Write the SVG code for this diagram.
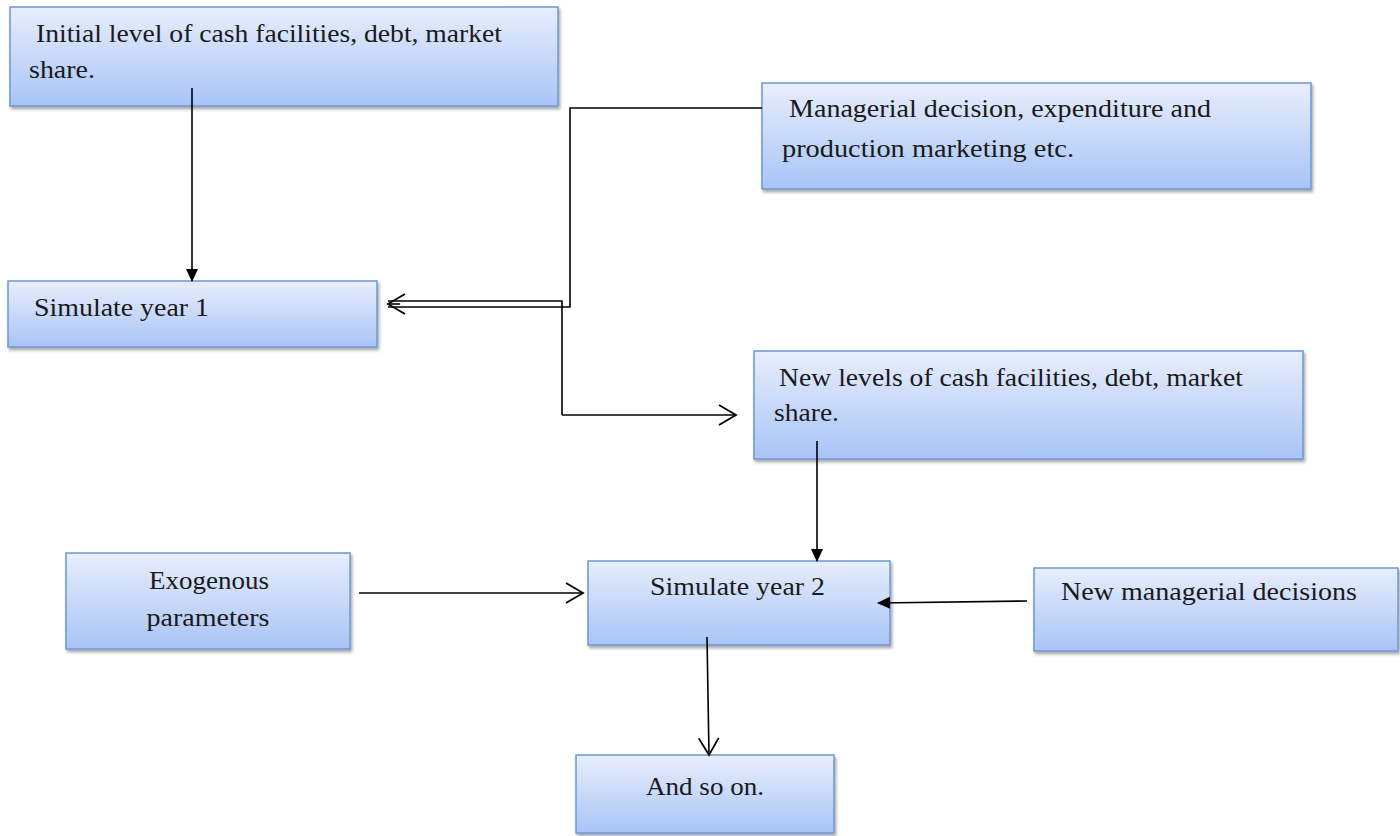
<svg xmlns="http://www.w3.org/2000/svg" width="1400" height="836" viewBox="0 0 1400 836">
<style>
.box{fill:url(#g);stroke:#6d97d4;stroke-width:1.5;filter:url(#sh)}
.t{font-family:"Liberation Serif","DejaVu Serif",serif;font-size:25px;fill:#1a1a1a}
.c{fill:none;stroke:#000;stroke-width:1.6}
</style>
<defs>
<linearGradient id="g" x1="0" y1="0" x2="0" y2="1">
<stop offset="0" stop-color="#e8eefc"/>
<stop offset="1" stop-color="#a8c4f6"/>
</linearGradient>
<filter id="sh" x="-5%" y="-10%" width="115%" height="130%">
<feDropShadow dx="1.5" dy="2.5" stdDeviation="1.5" flood-color="#000" flood-opacity="0.35"/>
</filter>
<marker id="fa" markerWidth="14" markerHeight="14" refX="12" refY="7" orient="auto" markerUnits="userSpaceOnUse">
<path d="M0,1 L13,7 L0,13 Z" fill="#000"/>
</marker>
<marker id="oa" markerWidth="22" markerHeight="24" refX="19" refY="12" orient="auto" markerUnits="userSpaceOnUse">
<path d="M2,2 L19,12 L2,22" fill="none" stroke="#000" stroke-width="1.8"/>
</marker>
</defs>

<g id="n1"><rect class="box" x="10" y="7" width="548" height="99"/>
<text class="t" x="36" y="42" textLength="466" lengthAdjust="spacingAndGlyphs">Initial level of cash facilities, debt, market</text>
<text class="t" x="29" y="78" textLength="66" lengthAdjust="spacingAndGlyphs">share.</text></g>

<g id="n2"><rect class="box" x="762" y="83" width="549" height="106"/>
<text class="t" x="789" y="117" textLength="422" lengthAdjust="spacingAndGlyphs">Managerial  decision, expenditure  and</text>
<text class="t" x="782" y="157" textLength="292" lengthAdjust="spacingAndGlyphs">production  marketing  etc.</text></g>

<g id="n3"><rect class="box" x="8" y="281" width="369" height="66"/>
<text class="t" x="34" y="316" textLength="175" lengthAdjust="spacingAndGlyphs">Simulate year 1</text></g>

<g id="n4"><rect class="box" x="754" y="351" width="549" height="108"/>
<text class="t" x="779" y="386" textLength="464" lengthAdjust="spacingAndGlyphs">New levels of cash facilities, debt, market</text>
<text class="t" x="774" y="421" textLength="65" lengthAdjust="spacingAndGlyphs">share.</text></g>

<g id="n5"><rect class="box" x="66" y="553" width="284" height="96"/>
<text class="t" x="209" y="589" text-anchor="middle" textLength="120" lengthAdjust="spacingAndGlyphs">Exogenous</text>
<text class="t" x="208" y="626" text-anchor="middle" textLength="123" lengthAdjust="spacingAndGlyphs">parameters</text></g>

<g id="n6"><rect class="box" x="588" y="561" width="302" height="84"/>
<text class="t" x="650" y="595" textLength="175" lengthAdjust="spacingAndGlyphs">Simulate year 2</text></g>

<g id="n7"><rect class="box" x="1034" y="568" width="364" height="83"/>
<text class="t" x="1061" y="600" textLength="296" lengthAdjust="spacingAndGlyphs">New managerial  decisions</text></g>

<g id="n8"><rect class="box" x="576" y="755" width="258" height="78"/>
<text class="t" x="646" y="795" textLength="118" lengthAdjust="spacingAndGlyphs">And so on.</text></g>

<g id="connectors">
<path class="c" d="M192,88 L192,281" marker-end="url(#fa)"/>
<path class="c" d="M762,108 L570,108 L570,307 L388,307"/>
<path class="c" d="M562,415 L562,301 L388,301"/>
<path class="c" d="M400,304 L388,304" marker-end="url(#oa)"/>
<path class="c" d="M562,415 L736,415" marker-end="url(#oa)"/>
<path class="c" d="M817,441 L817,561" marker-end="url(#fa)"/>
<path class="c" d="M359,593 L583,593" marker-end="url(#oa)"/>
<path class="c" d="M1027,601 L878,603" marker-end="url(#fa)"/>
<path class="c" d="M707,637 L709,755" marker-end="url(#oa)"/>
</g>
</svg>
